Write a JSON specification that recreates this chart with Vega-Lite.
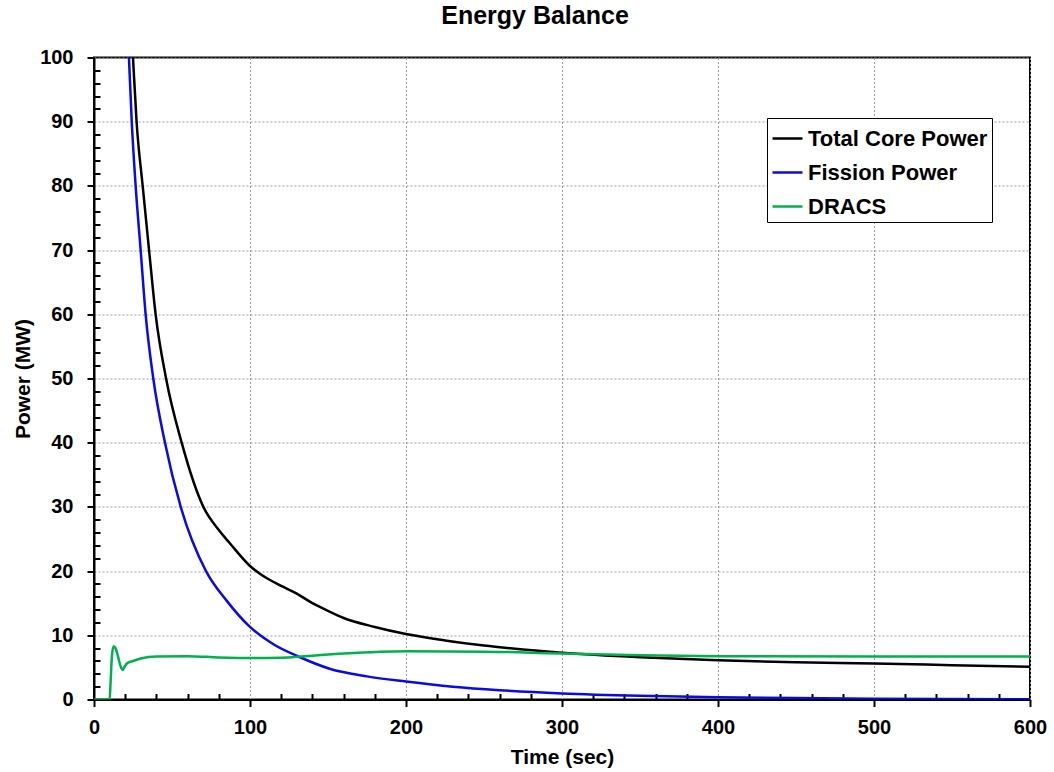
{
  "$schema": "https://vega.github.io/schema/vega-lite/v6.json",
  "width": 936,
  "height": 642,
  "autosize": {"type": "none"},
  "padding": {"left": 94, "top": 57.5, "right": 24, "bottom": 72.5},
  "background": "white",
  "config": {
    "font": "Liberation Sans",
    "view": {"stroke": "black", "strokeWidth": 2},
    "axis": {"labelFont": "Liberation Sans", "titleFont": "Liberation Sans"}
  },
  "title": {
    "text": "Energy Balance",
    "fontSize": 25,
    "fontWeight": "bold",
    "font": "Liberation Sans",
    "color": "black",
    "anchor": "middle",
    "dx": -27,
    "baseline": "alphabetic",
    "offset": -1
  },
  "data": {
    "values": [
      {"t": 20, "P": 122, "s": "Total Core Power"},
      {"t": 25, "P": 100, "s": "Total Core Power"},
      {"t": 27.3, "P": 90, "s": "Total Core Power"},
      {"t": 31.2, "P": 80, "s": "Total Core Power"},
      {"t": 35.3, "P": 70, "s": "Total Core Power"},
      {"t": 39.5, "P": 60, "s": "Total Core Power"},
      {"t": 46.2, "P": 50, "s": "Total Core Power"},
      {"t": 56.2, "P": 40, "s": "Total Core Power"},
      {"t": 70.1, "P": 30, "s": "Total Core Power"},
      {"t": 80, "P": 26.4, "s": "Total Core Power"},
      {"t": 87.2, "P": 24.3, "s": "Total Core Power"},
      {"t": 100, "P": 20.8, "s": "Total Core Power"},
      {"t": 110, "P": 19.0, "s": "Total Core Power"},
      {"t": 120, "P": 17.7, "s": "Total Core Power"},
      {"t": 130, "P": 16.5, "s": "Total Core Power"},
      {"t": 140, "P": 15.0, "s": "Total Core Power"},
      {"t": 150, "P": 13.8, "s": "Total Core Power"},
      {"t": 160, "P": 12.7, "s": "Total Core Power"},
      {"t": 180, "P": 11.3, "s": "Total Core Power"},
      {"t": 200, "P": 10.2, "s": "Total Core Power"},
      {"t": 225, "P": 9.2, "s": "Total Core Power"},
      {"t": 250, "P": 8.4, "s": "Total Core Power"},
      {"t": 275, "P": 7.8, "s": "Total Core Power"},
      {"t": 300, "P": 7.3, "s": "Total Core Power"},
      {"t": 350, "P": 6.6, "s": "Total Core Power"},
      {"t": 400, "P": 6.1, "s": "Total Core Power"},
      {"t": 450, "P": 5.8, "s": "Total Core Power"},
      {"t": 500, "P": 5.6, "s": "Total Core Power"},
      {"t": 550, "P": 5.35, "s": "Total Core Power"},
      {"t": 600, "P": 5.1, "s": "Total Core Power"},

      {"t": 20, "P": 114, "s": "Fission Power"},
      {"t": 22.4, "P": 100, "s": "Fission Power"},
      {"t": 24.2, "P": 90, "s": "Fission Power"},
      {"t": 26.7, "P": 80, "s": "Fission Power"},
      {"t": 29.9, "P": 70, "s": "Fission Power"},
      {"t": 33.1, "P": 60, "s": "Fission Power"},
      {"t": 38, "P": 50, "s": "Fission Power"},
      {"t": 45.5, "P": 40, "s": "Fission Power"},
      {"t": 55.6, "P": 30, "s": "Fission Power"},
      {"t": 71.8, "P": 20, "s": "Fission Power"},
      {"t": 85, "P": 15.4, "s": "Fission Power"},
      {"t": 100, "P": 11.3, "s": "Fission Power"},
      {"t": 115, "P": 8.6, "s": "Fission Power"},
      {"t": 131, "P": 6.7, "s": "Fission Power"},
      {"t": 151, "P": 4.8, "s": "Fission Power"},
      {"t": 175, "P": 3.6, "s": "Fission Power"},
      {"t": 200, "P": 2.8, "s": "Fission Power"},
      {"t": 230, "P": 2.0, "s": "Fission Power"},
      {"t": 260, "P": 1.45, "s": "Fission Power"},
      {"t": 300, "P": 0.95, "s": "Fission Power"},
      {"t": 350, "P": 0.58, "s": "Fission Power"},
      {"t": 400, "P": 0.36, "s": "Fission Power"},
      {"t": 450, "P": 0.22, "s": "Fission Power"},
      {"t": 500, "P": 0.13, "s": "Fission Power"},
      {"t": 600, "P": 0.05, "s": "Fission Power"},

      {"t": 0, "P": 0, "s": "DRACS"},
      {"t": 10, "P": 0, "s": "DRACS"},
      {"t": 10.6, "P": 2.5, "s": "DRACS"},
      {"t": 11.5, "P": 6.8, "s": "DRACS"},
      {"t": 12.6, "P": 8.3, "s": "DRACS"},
      {"t": 13.8, "P": 8.0, "s": "DRACS"},
      {"t": 15.3, "P": 6.8, "s": "DRACS"},
      {"t": 17, "P": 5.2, "s": "DRACS"},
      {"t": 18.4, "P": 4.6, "s": "DRACS"},
      {"t": 19.6, "P": 5.1, "s": "DRACS"},
      {"t": 21, "P": 5.6, "s": "DRACS"},
      {"t": 25, "P": 6.0, "s": "DRACS"},
      {"t": 30, "P": 6.4, "s": "DRACS"},
      {"t": 40, "P": 6.7, "s": "DRACS"},
      {"t": 60, "P": 6.75, "s": "DRACS"},
      {"t": 80, "P": 6.55, "s": "DRACS"},
      {"t": 100, "P": 6.45, "s": "DRACS"},
      {"t": 120, "P": 6.5, "s": "DRACS"},
      {"t": 135, "P": 6.75, "s": "DRACS"},
      {"t": 160, "P": 7.15, "s": "DRACS"},
      {"t": 200, "P": 7.5, "s": "DRACS"},
      {"t": 250, "P": 7.45, "s": "DRACS"},
      {"t": 280, "P": 7.3, "s": "DRACS"},
      {"t": 300, "P": 7.15, "s": "DRACS"},
      {"t": 350, "P": 6.9, "s": "DRACS"},
      {"t": 400, "P": 6.75, "s": "DRACS"},
      {"t": 500, "P": 6.7, "s": "DRACS"},
      {"t": 600, "P": 6.7, "s": "DRACS"}
    ]
  },
  "mark": {"type": "line", "strokeWidth": 2.5, "interpolate": "monotone", "clip": true},
  "encoding": {
    "x": {
      "field": "t", "type": "quantitative",
      "scale": {"domain": [0, 600], "nice": false},
      "axis": {
        "title": "Time (sec)", "orient": "bottom",
        "values": [0, 20, 40, 60, 80, 100, 120, 140, 160, 180, 200, 220, 240, 260, 280, 300, 320, 340, 360, 380, 400, 420, 440, 460, 480, 500, 520, 540, 560, 580, 600],
        "labelExpr": "datum.value % 100 === 0 ? datum.label : ''",
        "labelFontSize": 20, "labelFontWeight": "bold", "labelColor": "black",
        "titleFontSize": 21, "titleFontWeight": "bold", "titleColor": "black",
        "titlePadding": 9,
        "labelPadding": 11,
        "ticks": true,
        "tickSize": {"condition": {"test": "datum.value % 100 === 0", "value": 7}, "value": -6},
        "tickColor": "black", "tickWidth": 2, "tickOpacity": 1,
        "domainColor": "black", "domainWidth": 2,
        "grid": true, "gridColor": "#9a9a9a", "gridDash": [2, 2], "gridWidth": 1,
        "gridOpacity": {"condition": {"test": "datum.value % 100 === 0", "value": 1}, "value": 0},
        "labelFlush": false, "labelOverlap": false
      }
    },
    "y": {
      "field": "P", "type": "quantitative",
      "scale": {"domain": [0, 100], "nice": false},
      "axis": {
        "title": "Power (MW)", "orient": "left",
        "values": [0, 2, 4, 6, 8, 10, 12, 14, 16, 18, 20, 22, 24, 26, 28, 30, 32, 34, 36, 38, 40, 42, 44, 46, 48, 50, 52, 54, 56, 58, 60, 62, 64, 66, 68, 70, 72, 74, 76, 78, 80, 82, 84, 86, 88, 90, 92, 94, 96, 98, 100],
        "labelExpr": "datum.value % 10 === 0 ? datum.label : ''",
        "labelFontSize": 20, "labelFontWeight": "bold", "labelColor": "black",
        "titleFontSize": 21, "titleFontWeight": "bold", "titleColor": "black",
        "titlePadding": 6,
        "labelPadding": 14,
        "ticks": true,
        "tickSize": {"condition": {"test": "datum.value % 10 === 0", "value": 7}, "value": -6},
        "tickColor": "black", "tickWidth": 2, "tickOpacity": 1,
        "domainColor": "black", "domainWidth": 2,
        "grid": true, "gridColor": "#9a9a9a", "gridDash": [2, 2], "gridWidth": 1,
        "gridOpacity": {"condition": {"test": "datum.value % 10 === 0", "value": 1}, "value": 0},
        "labelFlush": false, "labelOverlap": false
      }
    },
    "color": {
      "field": "s", "type": "nominal",
      "scale": {
        "domain": ["Total Core Power", "Fission Power", "DRACS"],
        "range": ["#000000", "#0a0ae6", "#00b050"]
      },
      "legend": {
        "title": null,
        "orient": "none",
        "legendX": 673,
        "legendY": 60.5,
        "direction": "vertical",
        "fillColor": "white",
        "strokeColor": "black",
        "padding": 4,
        "symbolType": "stroke",
        "symbolSize": 900,
        "symbolStrokeWidth": 2.5,
        "labelFontSize": 22,
        "labelFontWeight": "bold",
        "labelColor": "black",
        "labelLimit": 400,
        "labelOffset": 4,
        "rowPadding": 6
      }
    }
  }
}
